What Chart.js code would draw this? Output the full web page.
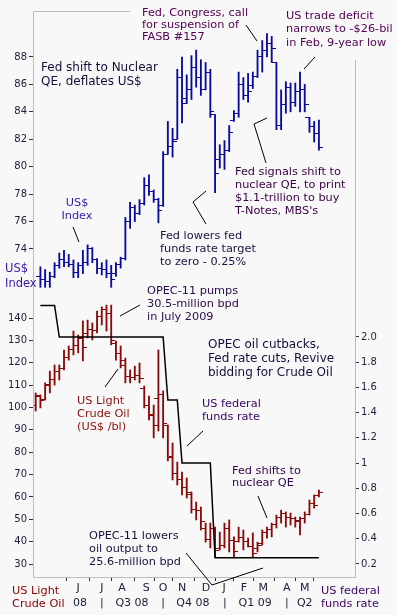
<!DOCTYPE html>
<html>
<head>
<meta charset="utf-8">
<script src="https://cdn.jsdelivr.net/npm/chart.js@4.4.1/dist/chart.umd.min.js"></script>
<style>
  html, body { margin: 0; padding: 0; background: #f8f8f8; }
</style>
</head>
<body>
<canvas id="chart" width="397" height="615"></canvas>
<script>
// Weekly bars. Week 0 = first crude oil bar (early April 2008).
// US$ index and fed funds rate start one week later (week 1).
const oilOpen  = [101.0,105.0,103.5,110.0,112.5,116.0,117.5,122.5,126.0,127.5,131.0,133.0,135.0,134.5,140.5,144.0,142.0,128.5,124.0,121.0,114.0,113.5,114.5,108.5,101.0,97.0,104.0,106.0,92.0,78.0,70.5,68.0,64.0,61.0,54.5,54.0,46.0,41.0,46.0,37.0,38.5,46.0,40.5,40.0,42.0,40.0,38.0,37.0,39.0,44.0,45.5,47.5,51.0,52.5,51.0,50.5,49.0,50.5,52.0,57.0,60.5];
const oilHigh  = [106.5,105.6,111.0,116.3,119.0,119.0,125.7,127.5,134.2,132.4,138.7,139.1,137.8,143.1,145.0,145.8,145.8,129.7,127.5,122.1,116.8,118.5,119.9,109.6,105.1,101.1,125.7,107.4,92.2,84.1,75.6,71.1,68.5,62.2,57.7,55.5,48.3,48.3,46.5,44.3,48.3,49.7,42.1,46.5,45.2,41.6,43.9,39.8,45.2,46.5,48.3,51.9,54.1,53.3,52.8,51.0,51.0,53.3,58.6,60.9,63.1];
const oilLow   = [98.4,99.8,103.3,106.5,110.0,112.3,116.8,121.2,123.5,124.4,120.8,131.1,130.2,133.3,136.9,134.2,128.0,121.2,117.7,111.0,111.0,112.3,111.0,99.8,94.4,86.4,89.5,86.4,76.1,67.6,65.3,60.9,59.5,52.8,49.7,45.2,39.8,37.2,33.1,36.3,37.2,35.4,32.7,39.8,36.3,37.6,33.1,35.4,38.5,41.6,42.1,46.1,48.3,46.5,47.4,46.5,43.0,48.3,51.9,55.0,60.0];
const oilClose = [105.5,103.0,110.5,112.5,116.0,117.5,122.5,126.0,127.5,131.5,127.0,135.0,134.5,140.5,144.0,142.0,130.0,124.0,119.0,114.0,113.5,114.5,113.0,101.0,96.5,92.0,106.0,93.0,77.5,70.5,68.0,64.0,62.0,54.5,54.0,49.0,41.0,46.0,36.0,38.5,46.0,40.5,35.5,42.0,40.0,38.0,34.5,38.5,44.0,45.5,47.5,51.0,52.5,51.0,50.5,49.5,50.5,52.0,57.0,56.0,62.0];

const usdOpen  = [72.0,71.8,71.6,72.0,72.8,73.2,73.0,72.9,72.3,72.8,73.0,74.0,73.2,72.6,72.5,72.2,72.2,72.9,73.3,76.0,77.0,76.6,77.3,78.6,78.2,77.6,77.2,80.9,81.5,82.0,86.5,85.0,85.6,87.2,86.5,85.6,86.9,83.8,80.5,80.9,81.2,83.4,83.9,86.0,85.2,85.9,86.6,88.0,88.5,89.0,87.6,83.0,84.5,85.8,84.7,85.5,85.6,83.6,82.9,82.4];
const usdHigh  = [72.7,72.5,72.3,73.0,73.7,73.9,73.6,73.2,73.0,73.9,74.3,74.1,73.3,73.0,73.2,72.8,73.0,73.4,76.3,77.4,77.2,77.6,79.2,79.4,78.3,77.7,81.1,83.3,82.8,87.1,88.0,86.7,88.1,88.5,87.8,87.6,87.1,83.8,81.6,81.9,83.0,84.1,86.9,86.5,86.8,86.9,88.5,89.2,89.7,89.5,87.6,85.6,86.2,86.1,86.1,86.9,86.0,83.6,83.3,83.4];
const usdLow   = [71.2,71.2,71.2,71.9,72.6,72.7,72.7,71.9,71.9,72.2,72.8,73.0,72.2,72.1,71.9,71.2,72.0,72.6,73.2,75.5,76.0,76.5,77.2,77.9,77.4,75.9,77.1,80.9,80.7,82.0,83.2,84.6,84.9,85.8,85.2,85.6,83.6,78.1,79.9,79.8,81.1,83.3,83.6,84.9,84.7,85.7,86.5,86.9,88.0,87.6,82.7,82.7,83.9,84.0,84.4,84.0,84.0,82.5,81.8,81.2];
const usdClose = [71.8,71.6,72.0,72.8,73.2,73.0,72.9,72.3,72.8,73.0,74.0,73.2,72.6,72.5,72.2,71.8,72.9,73.3,76.0,77.0,76.6,77.3,78.6,78.2,77.6,76.8,80.9,81.5,81.8,86.5,84.6,85.6,87.2,86.5,85.6,86.9,84.0,79.5,80.9,81.2,82.5,83.9,86.0,85.2,85.5,86.6,88.0,88.5,89.0,88.6,83.0,84.5,85.8,84.7,85.5,85.6,84.5,82.9,82.4,81.4];

const fedRate = [2.25,2.25,2.25,2.25,2.0,2.0,2.0,2.0,2.0,2.0,2.0,2.0,2.0,2.0,2.0,2.0,2.0,2.0,2.0,2.0,2.0,2.0,2.0,2.0,2.0,2.0,2.0,1.5,1.5,1.5,1.0,1.0,1.0,1.0,1.0,1.0,1.0,0.25,0.25,0.25,0.25,0.25,0.25,0.25,0.25,0.25,0.25,0.25,0.25,0.25,0.25,0.25,0.25,0.25,0.25,0.25,0.25,0.25,0.25,0.25];

const usdTicks = [74, 76, 78, 80, 82, 84, 86, 88];
const oilTicks = [30, 40, 50, 60, 70, 80, 90, 100, 110, 120, 130, 140];
const fedTicks = [0.2, 0.4, 0.6, 0.8, 1.0, 1.2, 1.4, 1.6, 1.8, 2.0];
const fedTickLabels = ['0.2', '0.4', '0.6', '0.8', '1', '1.2', '1.4', '1.6', '1.8', '2.0'];
const monthTicks = [9, 14, 18.3, 23.4, 27, 31, 36.1, 39.9, 44.1, 48.2, 53.2, 57];
const monthLabels = ['J', 'J', 'A', 'S', 'O', 'N', 'D', 'J', 'F', 'M', 'A', 'M'];
const quarterTicks = [9.4, 14, 20.4, 27, 33.3, 40.1, 46.5, 53.2, 57];
const quarterLabels = ['08', '|', 'Q3 08', '|', 'Q4 08', '|', 'Q1 09', '|', 'Q2'];

const USD_COLOR = '#0a0a9e';
const OIL_COLOR = '#8a0a0a';
const TICK_COLOR = '#1b1b3a';
const FONT = '"DejaVu Sans", Verdana, sans-serif';

// text notes: [lines, x, first line centre y, line height, font size, colour, align]
const notes = [
    [['Fed, Congress, call', 'for suspension of', 'FASB #157'], 142, 13, 12.2, 11.3, '#520052'],
    [['US trade deficit', 'narrows to -$26-bil', 'in Feb, 9-year low'], 286, 16, 13.5, 11.3, '#520052'],
    [['Fed shift to Nuclear', 'QE, deflates US$'], 41, 68, 14, 12, '#10103a'],
    [['US$', 'Index'], 77, 203, 13, 11.3, '#3a1aa8', 'center'],
    [['US$', 'Index'], 5, 269, 15, 11.5, '#3a1aa8'],
    [['Fed lowers fed', 'funds rate target', 'to zero - 0.25%'], 160, 236, 13, 11.3, '#141440'],
    [['Fed signals shift to', 'nuclear QE, to print', '$1.1-trillion to buy', 'T-Notes, MBS\'s'], 235, 172, 13, 11.3, '#3c0046'],
    [['OPEC-11 pumps', '30.5-million bpd', 'in July 2009'], 147, 291, 13, 11.3, '#2a0a4a'],
    [['OPEC oil cutbacks,', 'Fed rate cuts, Revive', 'bidding for Crude Oil'], 208, 345, 14, 12, '#10103a'],
    [['US Light', 'Crude Oil', '(US$ /bl)'], 77, 401, 13, 11.3, '#8b1010'],
    [['US federal', 'funds rate'], 202, 404, 13, 11.3, '#3c0064'],
    [['Fed shifts to', 'nuclear QE'], 232, 471, 12.5, 11.3, '#30004a'],
    [['OPEC-11 lowers', 'oil output to', '25.6-million bpd'], 89, 536, 13, 11.3, '#141440'],
    [['US Light', 'Crude Oil'], 12, 591, 13, 11.3, '#8b0000'],
    [['US federal', 'funds rate'], 321, 591, 13, 11.3, '#3c0064']
];

const pointers = [
    [[246, 25], [257, 41]],
    [[315, 57], [304, 69]],
    [[73, 227], [79, 242]],
    [[206, 191], [193, 202], [206, 224]],
    [[267, 118], [254, 124], [266, 163]],
    [[120, 316], [140, 305]],
    [[105, 387], [118, 369]],
    [[187, 446], [203, 431]],
    [[258, 496], [267, 518]],
    [[186, 553], [212, 585], [263, 568]]
];

// small horizontal tick used for open (left) and close (right)
function tickMark(color, left) {
    const c = document.createElement('canvas');
    c.width = 8;
    c.height = 1;
    const g = c.getContext('2d');
    g.fillStyle = color;
    g.fillRect(left ? 0 : 4, 0, 4, 1);
    return c;
}

function rangeData(lo, hi, start) {
    return lo.map((v, i) => ({ x: i + start, y: [v, hi[i]] }));
}

function pointData(vals, start) {
    return vals.map((v, i) => ({ x: i + start, y: v }));
}

function tickSet(values) {
    return function (scale) {
        scale.ticks = values.map(v => ({ value: v }));
    };
}

const decorPlugin = {
    id: 'decor',
    beforeDraw(chart) {
        const ctx = chart.ctx;
        ctx.save();
        ctx.fillStyle = '#f8f8f8';
        ctx.fillRect(0, 0, chart.width, chart.height);
        ctx.restore();
    },
    afterDraw(chart) {
        const ctx = chart.ctx;
        const a = chart.chartArea;
        ctx.save();
        // frame, partly hidden behind the notes at the top
        ctx.strokeStyle = '#bcbcbc';
        ctx.lineWidth = 1;
        ctx.beginPath();
        ctx.moveTo(130, a.top + 0.5);
        ctx.lineTo(a.left + 0.5, a.top + 0.5);
        ctx.lineTo(a.left + 0.5, a.bottom + 0.5);
        ctx.lineTo(a.right + 0.5, a.bottom + 0.5);
        ctx.lineTo(a.right + 0.5, 60);
        ctx.stroke();

        ctx.strokeStyle = '#000';
        ctx.lineWidth = 1;
        pointers.forEach(p => {
            ctx.beginPath();
            p.forEach((pt, i) => i ? ctx.lineTo(pt[0], pt[1]) : ctx.moveTo(pt[0], pt[1]));
            ctx.stroke();
        });

        ctx.textBaseline = 'middle';
        notes.forEach(n => {
            ctx.font = n[4] + 'px ' + FONT;
            ctx.fillStyle = n[5];
            ctx.textAlign = n[6] || 'left';
            n[0].forEach((line, i) => ctx.fillText(line, n[1], n[2] + i * n[3]));
        });
        ctx.restore();
    }
};

Chart.defaults.font.family = FONT;

const yTicks = { autoSkip: false, padding: 2, color: TICK_COLOR, font: { size: 10 } };
const yGrid = { drawOnChartArea: false, tickLength: 4, color: '#333' };

new Chart(document.getElementById('chart'), {
    type: 'bar',
    data: {
        datasets: [{
            type: 'line',
            label: 'US federal funds rate',
            data: pointData(fedRate, 1),
            yAxisID: 'yFed',
            borderColor: '#000',
            borderWidth: 1.5,
            pointRadius: 0,
            tension: 0
        }, {
            type: 'line',
            data: pointData(usdOpen, 1),
            yAxisID: 'yUsd',
            showLine: false,
            pointRadius: 3,
            pointStyle: tickMark(USD_COLOR, true)
        }, {
            type: 'line',
            data: pointData(usdClose, 1),
            yAxisID: 'yUsd',
            showLine: false,
            pointRadius: 3,
            pointStyle: tickMark(USD_COLOR, false)
        }, {
            label: 'US$ Index',
            data: rangeData(usdLow, usdHigh, 1),
            yAxisID: 'yUsd',
            backgroundColor: USD_COLOR,
            barThickness: 1.2,
            grouped: false
        }, {
            type: 'line',
            data: pointData(oilOpen, 0),
            yAxisID: 'yOil',
            showLine: false,
            pointRadius: 3,
            pointStyle: tickMark(OIL_COLOR, true)
        }, {
            type: 'line',
            data: pointData(oilClose, 0),
            yAxisID: 'yOil',
            showLine: false,
            pointRadius: 3,
            pointStyle: tickMark(OIL_COLOR, false)
        }, {
            label: 'US Light Crude Oil',
            data: rangeData(oilLow, oilHigh, 0),
            yAxisID: 'yOil',
            backgroundColor: OIL_COLOR,
            barThickness: 1.2,
            grouped: false
        }]
    },
    options: {
        responsive: false,
        animation: false,
        layout: { padding: { top: 11, left: 0, right: 0, bottom: 0 } },
        plugins: {
            legend: { display: false },
            tooltip: { enabled: false }
        },
        scales: {
            x: {
                type: 'linear',
                position: 'bottom',
                min: -0.57,
                max: 67.65,
                offset: false,
                afterBuildTicks: tickSet(monthTicks),
                afterFit: s => { s.height = 18; },
                grid: { drawOnChartArea: false, tickLength: 4, color: '#333' },
                border: { display: false },
                ticks: {
                    autoSkip: false,
                    maxRotation: 0,
                    padding: 1,
                    color: TICK_COLOR,
                    font: { size: 11 },
                    callback: (v, i) => monthLabels[i]
                }
            },
            x2: {
                type: 'linear',
                axis: 'x',
                position: 'bottom',
                min: -0.57,
                max: 67.65,
                offset: false,
                afterBuildTicks: tickSet(quarterTicks),
                afterFit: s => { s.height = 20; },
                grid: { display: false, drawTicks: false },
                border: { display: false },
                ticks: {
                    autoSkip: false,
                    maxRotation: 0,
                    padding: 2,
                    color: TICK_COLOR,
                    font: { size: 11 },
                    callback: (v, i) => quarterLabels[i]
                }
            },
            yUsd: {
                type: 'linear',
                position: 'left',
                stack: 'left',
                stackWeight: 285,
                weight: 2,
                min: 70.567,
                max: 91.355,
                afterBuildTicks: tickSet(usdTicks),
                afterFit: s => { s.width = 33; },
                grid: yGrid,
                border: { display: false },
                ticks: yTicks
            },
            yOil: {
                type: 'linear',
                position: 'left',
                stack: 'left',
                stackWeight: 281,
                weight: 1,
                min: 24.19,
                max: 149.86,
                afterBuildTicks: tickSet(oilTicks),
                afterFit: s => { s.width = 33; },
                grid: yGrid,
                border: { display: false },
                ticks: yTicks
            },
            yFed: {
                type: 'linear',
                position: 'right',
                min: 0.0969,
                max: 4.585,
                afterBuildTicks: tickSet(fedTicks),
                afterFit: s => { s.width = 42; },
                grid: yGrid,
                border: { display: false },
                ticks: {
                    autoSkip: false,
                    padding: 2,
                    color: TICK_COLOR,
                    font: { size: 10 },
                    callback: (v, i) => fedTickLabels[i]
                }
            }
        }
    },
    plugins: [decorPlugin]
});
</script>
</body>
</html>
